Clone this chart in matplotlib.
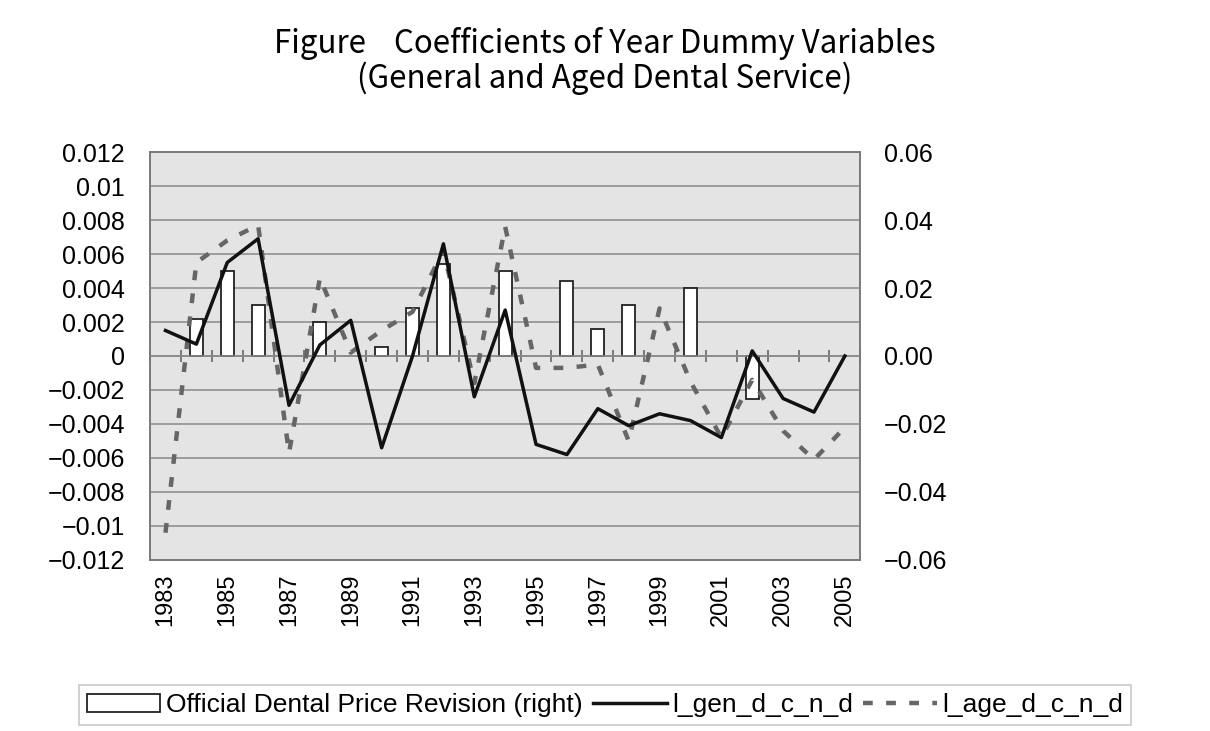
import numpy as np
import matplotlib.pyplot as plt

plt.rcParams['font.family'] = ['Liberation Sans', 'DejaVu Sans']
plt.rcParams['axes.unicode_minus'] = True

#------------------------数据-----------------------------
years = list(range(1983, 2006))
# official dental price revision (right axis)
revision = [0, 0.011, 0.025, 0.015, 0, 0.010, 0, 0.0027, 0.014, 0.027, 0,
            0.025, 0, 0.022, 0.008, 0.015, 0, 0.020, 0, -0.0127, 0, 0, 0]
# l_gen_d_c_n_d (left axis)
gen = [0.0015, 0.0007, 0.0055, 0.0069, -0.0029, 0.00065, 0.0021, -0.0054,
       0.0, 0.0066, -0.0024, 0.0027, -0.0052, -0.0058, -0.0031, -0.0041,
       -0.0034, -0.0038, -0.0048, 0.0003, -0.0025, -0.0033, 0.0]
# l_age_d_c_n_d (left axis)
age = [-0.0104, 0.0055, 0.0068, 0.0077, -0.0057, 0.0046, 0.0002, 0.0015,
       0.0026, 0.0062, -0.0016, 0.0076, -0.0007, -0.0007, -0.0005, -0.0050,
       0.0028, -0.0015, -0.0048, -0.0014, -0.0044, -0.0061, -0.0042]

left_ticks = np.round(np.arange(-0.012, 0.0121, 0.002), 3)
left_labels = ['0' if t == 0 else ('%g' % t).replace('-', '\u2212') for t in left_ticks]
right_ticks = np.round(np.arange(-0.06, 0.061, 0.02), 2)
right_labels = [('%.2f' % t).replace('-', '\u2212') for t in right_ticks]

#------------------------绘图-----------------------------
fig = plt.figure(figsize=(12.1, 7.31), dpi=100)
ax = fig.add_axes([0.124, 0.234, 0.587, 0.558])
ax2 = ax.twinx()
ax.set_zorder(ax2.get_zorder() + 1)
ax.patch.set_visible(False)
ax2.patch.set_visible(True)
ax2.set_facecolor('#e4e4e4')

x = np.arange(len(years))

# bars on right axis (years without revision have no bar)
bx = [i for i, v in enumerate(revision) if v != 0]
bv = [revision[i] for i in bx]
ax2.bar(bx, bv, width=0.42, color='white', edgecolor='#222222',
        linewidth=1.3, zorder=3, label='Official Dental Price Revision (right)')
ax2.set_ylim(-0.06, 0.06)
ax2.set_yticks(right_ticks)
ax2.set_yticklabels(right_labels, fontsize=18)
ax2.set_yticks(np.arange(-0.06, 0.061, 0.01), minor=True)
ax2.grid(True, which='both', axis='y', color='#909090', linewidth=1.2, zorder=0)
ax2.set_axisbelow(True)
ax2.tick_params(axis='y', which='both', length=0, pad=17)

# lines on left axis
ax.plot(x, age, color='#666666', linestyle=(0, (2.2, 3.0)), linewidth=3.2,
        label='l_age_d_c_n_d')
ax.plot(x, gen, color='#111111', linewidth=2.5, label='l_gen_d_c_n_d')
ax.set_ylim(-0.012, 0.012)
ax.set_yticks(left_ticks)
ax.set_yticklabels(left_labels, fontsize=18)
ax.tick_params(axis='y', length=0, pad=18)

ax.set_xlim(-0.5, len(years) - 0.5)
ax.set_xticks(x[::2])
ax.set_xticklabels([str(y) for y in years[::2]], rotation=90, fontsize=17)
ax.tick_params(axis='x', length=0, pad=10)

for a in (ax, ax2):
    for s in a.spines.values():
        s.set_color('#7a7a7a')
        s.set_linewidth(1.2)

# category axis at zero with boundary ticks
sec = ax.secondary_xaxis(0.5)
sec.set_xticks(np.arange(len(years) + 1) - 0.5)
sec.set_xticklabels([])
sec.tick_params(direction='inout', length=8, color='#666666', width=1.2)
for s in sec.spines.values():
    s.set_color('#8a8a8a')
    s.set_linewidth(1.2)

tfont = ['Noto Sans CJK JP', 'DejaVu Sans']
fig.text(0.5, 1 - 44 / 731, 'Figure    Coefficients of Year Dummy Variables',
         ha='center', va='center', fontsize=22.5, family=tfont)
fig.text(0.5, 1 - 78 / 731, '(General and Aged Dental Service)',
         ha='center', va='center', fontsize=22.5, family=tfont)

h2, l2 = ax2.get_legend_handles_labels()
h1, l1 = ax.get_legend_handles_labels()
leg = fig.legend([h2[0], h1[1], h1[0]], [l2[0], l1[1], l1[0]], loc='center',
                 bbox_to_anchor=(0.5, 1 - 705 / 731), ncol=3, fontsize=19,
                 frameon=True, fancybox=False, edgecolor='#bbbbbb',
                 handlelength=2.8, columnspacing=0.4, handletextpad=0.2,
                 borderpad=0.3)
leg.get_frame().set_linewidth(1.2)

plt.savefig('out.png', dpi=100)
